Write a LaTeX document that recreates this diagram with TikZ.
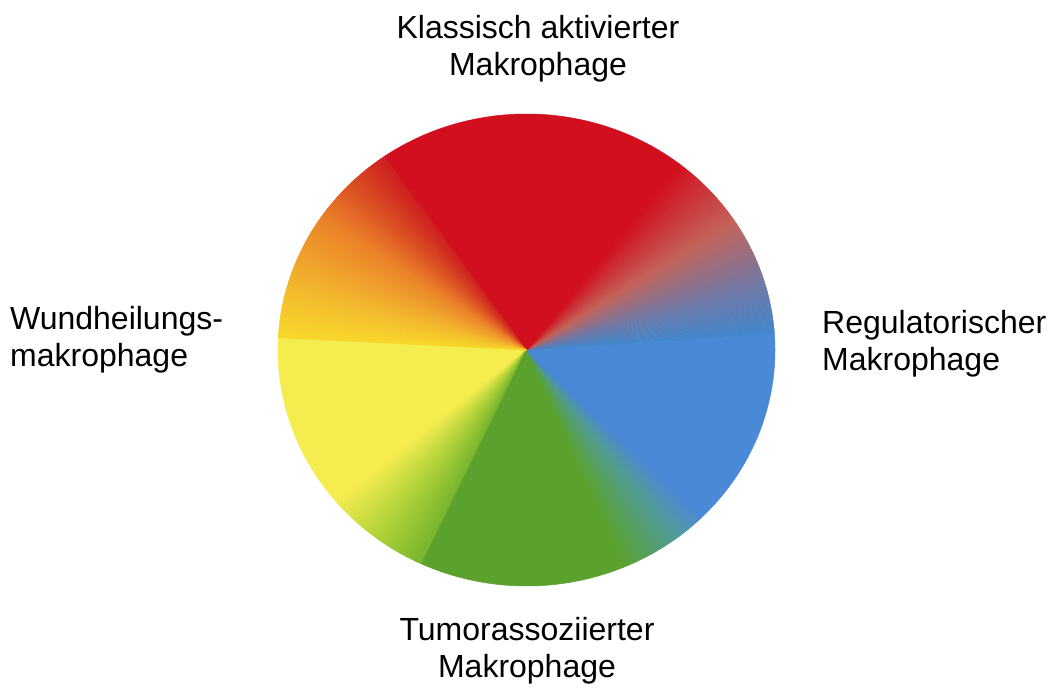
\documentclass[tikz,border=0pt]{standalone}
\usepackage{fontspec}
\setmainfont{Liberation Sans}
\usetikzlibrary{positioning}

% colours of the wheel
\definecolor{wred}{RGB}{210,15,30}
\definecolor{wdarkred}{RGB}{205,30,30}
\definecolor{wsalmon}{RGB}{195,100,90}
\definecolor{wslate}{RGB}{115,120,165}
\definecolor{wblueedge}{RGB}{65,135,205}
\definecolor{wblue}{RGB}{74,137,214}
\definecolor{wteal}{RGB}{80,155,150}
\definecolor{wgreen}{RGB}{90,162,45}
\definecolor{wyelgreen}{RGB}{120,180,45}
\definecolor{wlime}{RGB}{175,210,55}
\definecolor{wyellow}{RGB}{245,236,80}
\definecolor{wgold}{RGB}{248,215,40}
\definecolor{wamber}{RGB}{243,185,45}
\definecolor{worange}{RGB}{235,130,40}

\tikzset{
  label text/.style={font=\fontsize{32}{37}\selectfont, inner sep=0pt}
}

% one slice of the wheel: from, to, colour
\newcommand{\wedgepiece}[3]{%
  \fill[fill=#3, draw=#3, line width=0.5pt] (wheel) -- ++(#1:248.5pt and 236pt)
    arc[start angle=#1, end angle=#2, x radius=248.5pt, y radius=236pt] -- cycle;}

% blended slices: from, to, colour a, colour b
\newcommand{\blendwedge}[4]{%
  \foreach \k in {1,...,24}{
    \pgfmathsetmacro{\angA}{#1+(#2-#1)*(\k-1)/24}
    \pgfmathsetmacro{\angB}{#1+(#2-#1)*\k/24}
    \pgfmathsetmacro{\mixp}{100*(\k-0.5)/24}
    \wedgepiece{\angA}{\angB}{#4!\mixp!#3}
  }}

\begin{document}
\begin{tikzpicture}[x=1pt, y=1pt]
  \useasboundingbox (0,0) rectangle (1050,697);

  % Wheel
  \coordinate (wheel) at (526.5,347);

  \wedgepiece{-183}{-140}{wyellow}
  \blendwedge{-140}{-127}{wyellow}{wlime}
  \blendwedge{-127}{-115}{wlime}{wyelgreen}
  \wedgepiece{-115}{-67}{wgreen}
  \blendwedge{-67}{-53}{wgreen}{wteal}
  \blendwedge{-53}{-45}{wteal}{wblue}
  \wedgepiece{-45}{4}{wblue}
  \blendwedge{4}{17}{wblueedge}{wslate}
  \blendwedge{17}{33}{wslate}{wsalmon}
  \blendwedge{33}{52}{wsalmon}{wred}
  \wedgepiece{52}{125}{wred}
  \blendwedge{125}{146}{wdarkred}{worange}
  \blendwedge{146}{165}{worange}{wamber}
  \blendwedge{165}{177}{wamber}{wgold}

  % Labels
  \node[label text, align=center] (klassisch) at (538,648) {Klassisch aktivierter\\Makrophage};
  \node[label text, align=left, anchor=west] (wundheilung) at (10,357) {Wundheilungs-\\makrophage};
  \node[label text, align=left, anchor=west] (regulatorisch) at (822,353) {Regulatorischer\\Makrophage};
  \node[label text, align=center] (tumor) at (527,46) {Tumorassoziierter\\Makrophage};
\end{tikzpicture}
\end{document}
